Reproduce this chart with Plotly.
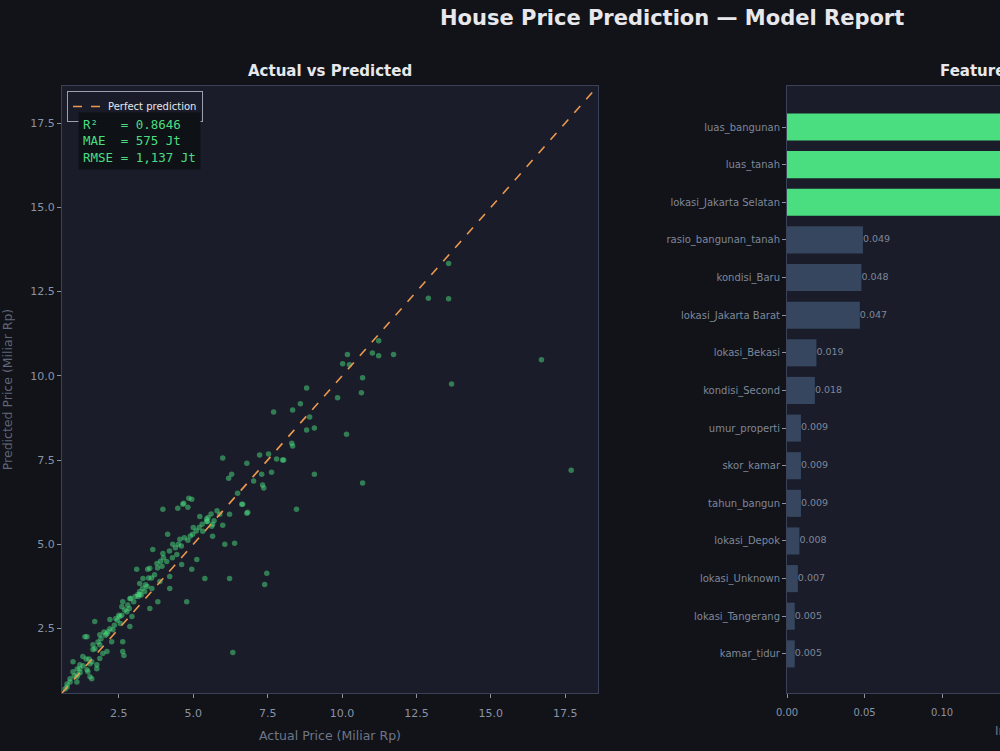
import plotly.graph_objects as go

# ---------------- data ----------------
actual = [13.58, 12.9, 13.58, 16.7, 17.7, 13.68, 11.73, 11.23, 11.02, 11.23, 10.18, 10.02, 10.25, 10.69, 10.65,
          9.85, 8.81, 8.6, 8.34, 8.91, 8.81, 9.07, 10.15, 8.31, 8.34, 8.0, 9.07, 10.69,
          7.7, 7.23, 7.53, 7.8, 8.04, 5.99, 6.8, 6.29, 6.19, 7.3, 7.63, 7.33, 7.37, 7.03, 6.49, 6.63, 6.83, 8.47,
          4.95, 4.65, 4.82, 6.22, 5.89, 5.22, 5.45, 5.62, 5.99,
          4.85, 3.98, 4.48, 4.68, 5.48, 5.65, 6.66, 6.8, 5.32, 5.65, 6.06, 6.39, 4.98, 4.82, 4.55, 4.14, 4.31,
          3.98, 3.64, 4.11, 4.45, 4.61, 5.12, 4.95, 5.39, 6.22, 3.78, 3.54, 3.1, 3.31, 3.88, 4.21, 3.61, 3.37,
          3.2, 2.87, 2.63, 4.78, 7.47, 7.4,
          3.47, 4.21, 3.2, 3.14, 3.81, 3.54, 2.6, 2.77, 2.94, 2.87, 2.53, 2.2, 1.69, 2.3, 2.1, 2.63, 2.63,
          1.43, 1.86, 1.63, 2.1, 1.86, 1.59, 1.29, 1.19, 1.43, 1.76, 1.53, 0.96, 0.86, 0.76, 1.09, 0.69, 1.12,
          0.96, 6.33, 2.67,
          1.0, 1.2, 1.3, 1.5, 1.7, 1.9, 2.0, 2.2, 2.4, 2.6, 2.8, 3.0, 3.2, 3.4, 3.6, 3.8, 4.0, 4.2, 4.5, 4.7,
          5.0, 5.3, 5.5, 5.7, 1.1, 1.4, 1.8, 2.5, 2.9, 3.3, 3.5, 3.9, 4.4, 5.1, 5.6,
          1.36, 1.63, 1.86, 2.13, 2.26, 1.96, 1.53, 1.76, 1.19, 1.09, 0.86, 0.76, 1.59, 1.46,
          2.35, 2.45, 2.7, 2.85, 3.05, 3.25, 3.45, 3.7, 3.95, 4.3, 4.6, 4.9, 5.2, 5.45, 5.8, 2.05, 2.55, 3.15]
predicted = [13.33, 12.3, 12.29, 10.48, 7.2, 9.76, 10.63, 10.6, 10.68, 11.04, 10.63, 10.36, 10.33, 9.94, 9.5,
             9.35, 9.64, 9.17, 8.99, 8.78, 8.39, 8.45, 8.27, 8.0, 7.92, 7.5, 7.08, 6.82,
             8.93, 7.65, 7.68, 7.53, 7.5, 7.56, 7.41, 7.08, 6.96, 7.08, 7.14, 6.76, 6.67, 6.88, 6.52, 6.19, 5.95, 6.04,
             6.34, 6.19, 6.1, 5.89, 5.89, 5.83, 5.68, 5.54, 5.57,
             6.37, 6.04, 6.07, 6.22, 5.68, 5.6, 6.19, 5.92, 5.39, 5.24, 5.0, 5.03, 5.3, 5.12, 5.15, 5.3, 5.0,
             4.73, 4.85, 4.49, 4.7, 4.4, 4.55, 4.26, 3.99, 3.99, 4.43, 4.29, 4.26, 3.99, 3.9, 3.69, 3.69, 3.6,
             3.51, 3.39, 3.3, 3.3, 4.14, 3.81,
             4.26, 4.05, 3.84, 3.51, 3.3, 3.1, 3.15, 3.0, 2.86, 2.56, 2.86, 2.77, 2.71, 2.47, 2.35, 2.11, 1.82,
             2.26, 2.02, 1.88, 1.82, 1.61, 1.52, 1.67, 1.43, 1.28, 1.31, 1.07, 1.22, 1.01, 0.86, 0.92, 0.71, 1.13,
             1.52, 1.79, 1.7,
             1.1, 1.2, 1.4, 1.6, 1.9, 2.2, 2.4, 2.5, 2.8, 2.9, 3.2, 3.3, 3.6, 3.8, 4.0, 4.3, 4.6, 4.8, 5.0, 5.2,
             5.5, 5.6, 5.8, 5.7, 1.3, 1.6, 2.1, 2.9, 3.4, 3.7, 4.0, 4.5, 4.9, 5.4, 5.9,
             2.26, 2.02, 2.32, 2.41, 2.11, 1.76, 1.46, 1.43, 1.31, 1.07, 0.92, 0.77, 1.01, 1.22,
             2.6, 2.75, 3.05, 3.1, 3.45, 3.5, 3.75, 4.1, 4.35, 4.6, 4.95, 5.25, 5.5, 5.75, 6.0, 2.3, 2.65, 3.45]
axis_limits = [0.59, 18.6]

features = ["luas_bangunan", "luas_tanah", "lokasi_Jakarta Selatan", "rasio_bangunan_tanah", "kondisi_Baru",
            "lokasi_Jakarta Barat", "lokasi_Bekasi", "kondisi_Second", "umur_properti", "skor_kamar",
            "tahun_bangun", "lokasi_Depok", "lokasi_Unknown", "lokasi_Tangerang", "kamar_tidur"]
importance = [0.312, 0.245, 0.168, 0.049, 0.048, 0.047, 0.019, 0.018, 0.009, 0.009, 0.009, 0.008, 0.007, 0.005, 0.005]
top_n_highlight = 3

stats_lines = ["R²\u00a0\u00a0\u00a0= 0.8646", "MAE\u00a0\u00a0= 575 Jt", "RMSE = 1,137 Jt"]

# ---------------- styling ----------------
BG = "#111318"
PLOT_BG = "#1a1c29"
SPINE = "#3b4257"
TICK = "#8a92a6"
TITLE = "#e8e8ec"
GREEN = "#4ade80"
SLATE = "#35465e"
FONT = "DejaVu Sans"

W, H = 1000, 751
def px_x(p): return p / W
def px_y(p): return (H - p) / H

fig = go.Figure()

fig.add_trace(go.Scatter(
    x=actual, y=predicted, mode="markers", showlegend=False,
    marker=dict(size=5.5, color="rgba(74,222,128,0.5)", line=dict(width=0)),
    xaxis="x", yaxis="y", hoverinfo="skip"))

fig.add_trace(go.Scatter(
    x=axis_limits, y=axis_limits, mode="lines", name="Perfect prediction",
    line=dict(color="#ec9a4e", width=1.6, dash="dash"), xaxis="x", yaxis="y"))

ypos = list(range(len(features)))
colors = [GREEN if i < top_n_highlight else SLATE for i in ypos]
fig.add_trace(go.Bar(
    x=importance, y=ypos, orientation="h", width=0.72, showlegend=False,
    marker=dict(color=colors, line=dict(width=0)), xaxis="x2", yaxis="y2", hoverinfo="skip"))
fig.add_trace(go.Scatter(
    x=importance, y=ypos, mode="text", text=[f"{v:.3f}" for v in importance],
    textposition="middle right", textfont=dict(size=9.5, color="#7f879a", family=FONT),
    showlegend=False, xaxis="x2", yaxis="y2", hoverinfo="skip", cliponaxis=True))

ydom = [px_y(693), px_y(86)]
axis_common = dict(showgrid=False, zeroline=False, showline=True, linecolor=SPINE, linewidth=1,
                   ticks="outside", ticklen=4, tickcolor=TICK, tickfont=dict(size=11, color=TICK, family=FONT))

fig.update_layout(
    width=W, height=H, paper_bgcolor=BG, plot_bgcolor=PLOT_BG,
    margin=dict(l=0, r=0, t=0, b=0, autoexpand=False), font=dict(family=FONT, color=TICK),
    xaxis=dict(domain=[px_x(62), px_x(598)], range=axis_limits, tickvals=[2.5, 5, 7.5, 10, 12.5, 15, 17.5],
               ticktext=["2.5", "5.0", "7.5", "10.0", "12.5", "15.0", "17.5"], mirror=True,
               ticklabelstandoff=6,
               title=dict(text="Actual Price (Miliar Rp)", font=dict(size=12.5, color="#6f7688"), standoff=12),
               **axis_common),
    yaxis=dict(domain=ydom, range=axis_limits, tickvals=[2.5, 5, 7.5, 10, 12.5, 15, 17.5],
               ticktext=["2.5", "5.0", "7.5", "10.0", "12.5", "15.0", "17.5"], mirror=True,
               title=dict(text="Predicted Price (Miliar Rp)", font=dict(size=12.5, color="#5f6678"), standoff=16),
               **axis_common),
    xaxis2=dict(domain=[px_x(787), 1.0], range=[0, 0.1374], anchor="y2", tickvals=[0, 0.05, 0.10],
                ticktext=["0.00", "0.05", "0.10"], mirror=True, ticklabelstandoff=6,
                showgrid=False, zeroline=False, showline=True, linecolor=SPINE, linewidth=1,
                ticks="outside", ticklen=4, tickcolor=TICK, tickfont=dict(size=10, color=TICK, family=FONT)),
    yaxis2=dict(domain=ydom, range=[15.04, -1.09], anchor="x2", tickvals=ypos, ticktext=features,
                showgrid=False, zeroline=False, showline=True, linecolor=SPINE, linewidth=1,
                ticks="outside", ticklen=4, tickcolor=TICK, tickfont=dict(size=10, color="#7f879a", family=FONT)),
    legend=dict(x=px_x(67), y=px_y(91), xanchor="left", yanchor="top",
                bgcolor="rgba(26,28,41,0.9)", bordercolor="#9aa0ad", borderwidth=1,
                font=dict(size=10, color="#e5e7eb", family=FONT), itemwidth=30,
                tracegroupgap=0),
    showlegend=True,
)

fig.add_annotation(x=px_x(78), y=px_y(112), xref="paper", yref="paper", xanchor="left", yanchor="top",
                   text="<br>".join(stats_lines), showarrow=False, align="left",
                   font=dict(family="DejaVu Sans Mono", size=12.5, color=GREEN),
                   bgcolor="#0e1116", borderpad=4)
fig.add_annotation(x=px_x(672), y=px_y(18), xref="paper", yref="paper", xanchor="center", yanchor="middle",
                   text="<b>House Price Prediction — Model Report</b>", showarrow=False,
                   font=dict(size=21, color=TITLE, family=FONT))
fig.add_annotation(x=px_x(330), y=px_y(71), xref="paper", yref="paper", xanchor="center", yanchor="middle",
                   text="<b>Actual vs Predicted</b>", showarrow=False, font=dict(size=15, color=TITLE, family=FONT))
fig.add_annotation(x=px_x(938), y=px_y(71), xref="paper", yref="paper", xanchor="left", yanchor="middle",
                   text="<b>Feature Importance</b>", showarrow=False, font=dict(size=15, color=TITLE, family=FONT))
fig.add_annotation(x=px_x(993), y=px_y(731), xref="paper", yref="paper", xanchor="left", yanchor="middle",
                   text="Importance", showarrow=False, font=dict(size=12, color="#6f7688", family=FONT))

fig.write_html("out.html")
